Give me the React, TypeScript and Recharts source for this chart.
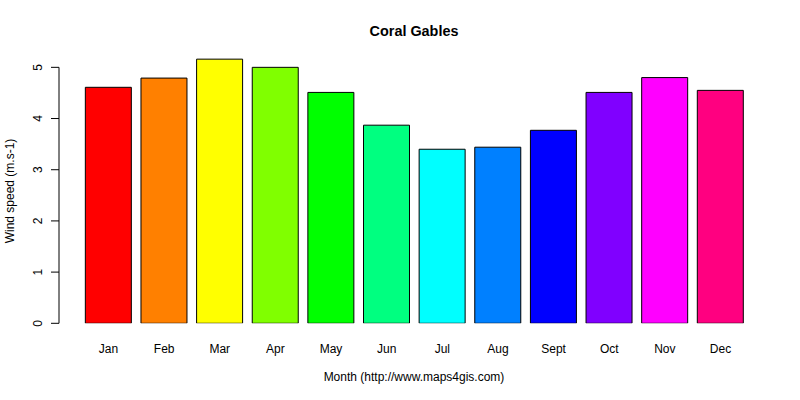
import React from "react";
import { BarChart, Bar, XAxis, YAxis, Cell, ReferenceLine, Customized } from "recharts";

const months = ["Jan", "Feb", "Mar", "Apr", "May", "Jun", "Jul", "Aug", "Sept", "Oct", "Nov", "Dec"];
const windSpeed = [4.61, 4.79, 5.16, 5.0, 4.51, 3.87, 3.4, 3.44, 3.77, 4.51, 4.8, 4.55];
const barColors = [
  "#FF0000", "#FF8000", "#FFFF00", "#80FF00", "#00FF00", "#00FF80",
  "#00FFFF", "#0080FF", "#0000FF", "#8000FF", "#FF00FF", "#FF0080",
];
const yTicks = [0, 1, 2, 3, 4, 5];
const title = "Coral Gables";
const xTitle = "Month (http://www.maps4gis.com)";
const yTitle = "Wind speed (m.s-1)";

const data = months.map((m, i) => ({ month: m, value: windSpeed[i] }));

const FONT = "'Liberation Sans', Arial, sans-serif";

const YTick = (props: any) => {
  const { x, y, payload } = props;
  return (
    <text
      x={x}
      y={y}
      transform={`rotate(-90 ${x} ${y})`}
      textAnchor="middle"
      fontFamily={FONT}
      fontSize={12}
      fill="#000"
    >
      {payload.value}
    </text>
  );
};

const Titles = () => (
  <g>
    <text x={414} y={36} textAnchor="middle" fontFamily={FONT} fontSize={14.4} fontWeight="bold" fill="#000">
      {title}
    </text>
    <text x={414} y={381} textAnchor="middle" fontFamily={FONT} fontSize={12} fill="#000">
      {xTitle}
    </text>
    <text
      x={13.5}
      y={191}
      transform="rotate(-90 13.5 191)"
      textAnchor="middle"
      fontFamily={FONT}
      fontSize={12}
      fill="#000"
    >
      {yTitle}
    </text>
  </g>
);

export default function App() {
  return (
    <div style={{ position: "absolute", left: 0, top: 0, width: 800, height: 400, background: "#fff" }}>
      <BarChart
        width={800}
        height={400}
        data={data}
        margin={{ top: 48.6, right: 30, bottom: 46.7, left: 0 }}
        barCategoryGap={4.64}
      >
        <XAxis
          dataKey="month"
          type="category"
          padding={{ left: 21.7, right: 21.7 }}
          axisLine={false}
          tickLine={false}
          tickSize={0}
          tickMargin={21}
          height={30}
          interval={0}
          tick={{ fontFamily: FONT, fontSize: 12, fill: "#000" }}
        />
        <XAxis xAxisId="n" type="number" domain={[0, 1]} hide allowDataOverflow />
        <YAxis
          type="number"
          domain={[0, 5.366]}
          ticks={yTicks}
          allowDataOverflow
          width={59}
          axisLine={false}
          tickLine={{ stroke: "#000" }}
          tickSize={8}
          tickMargin={9}
          tick={<YTick />}
        />
        <ReferenceLine
          xAxisId="n"
          segment={[{ x: 0, y: 0 }, { x: 0, y: 5 }]}
          stroke="#000"
          strokeWidth={1}
          ifOverflow="visible"
        />
        <Bar dataKey="value" stroke="#000" strokeWidth={1} isAnimationActive={false}>
          {data.map((d, i) => (
            <Cell key={d.month} fill={barColors[i]} />
          ))}
        </Bar>
        <Customized component={Titles} />
      </BarChart>
    </div>
  );
}
